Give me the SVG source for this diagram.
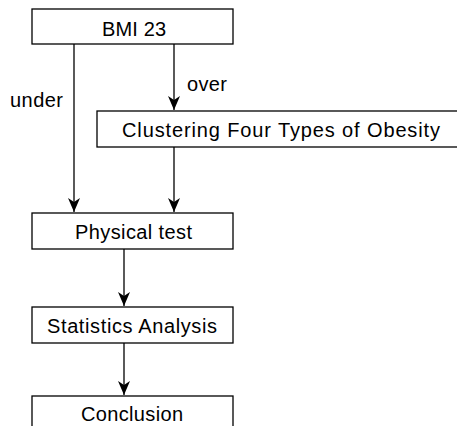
<svg xmlns="http://www.w3.org/2000/svg" width="457" height="426" viewBox="0 0 457 426">
<style>
.box{fill:#fff;stroke:#000;stroke-width:1.3}
.lbl{font-family:"Liberation Sans",Arial,sans-serif;font-size:20px;fill:#000}
.edge{stroke:#000;stroke-width:1.3;fill:none}
</style>
<defs>
<marker id="arr" markerUnits="userSpaceOnUse" markerWidth="16" markerHeight="14" viewBox="-15 -7 16 14" refX="0" refY="0" orient="auto">
<path d="M0,0 L-14,-6 L-10,0 L-14,6 Z" fill="#000"/>
</marker>
</defs>
<rect width="457" height="426" fill="#fff"/>
<g id="connectors">
<line class="edge" x1="74" y1="44" x2="74" y2="212" marker-end="url(#arr)"/>
<line class="edge" x1="174" y1="44" x2="174" y2="110" marker-end="url(#arr)"/>
<line class="edge" x1="174" y1="147" x2="174" y2="212" marker-end="url(#arr)"/>
<line class="edge" x1="124" y1="249" x2="124" y2="306" marker-end="url(#arr)"/>
<line class="edge" x1="124" y1="343" x2="124" y2="395" marker-end="url(#arr)"/>
<text class="lbl" x="10" y="107" textLength="53">under</text>
<text class="lbl" x="187" y="91" textLength="40">over</text>
</g>
<g id="bmi">
<rect class="box" x="32" y="9" width="201" height="35"/>
<text class="lbl" x="102" y="36" textLength="64">BMI 23</text>
</g>
<g id="clustering">
<rect class="box" x="97" y="111" width="370" height="36"/>
<text class="lbl" x="122" y="137" textLength="318">Clustering Four Types of Obesity</text>
</g>
<g id="physical">
<rect class="box" x="32" y="213" width="201" height="36"/>
<text class="lbl" x="75" y="239" textLength="117">Physical test</text>
</g>
<g id="statistics">
<rect class="box" x="32" y="307" width="201" height="36"/>
<text class="lbl" x="47" y="333" textLength="170">Statistics Analysis</text>
</g>
<g id="conclusion">
<rect class="box" x="32" y="396" width="201" height="40"/>
<text class="lbl" x="81" y="421" textLength="102">Conclusion</text>
</g>
</svg>
